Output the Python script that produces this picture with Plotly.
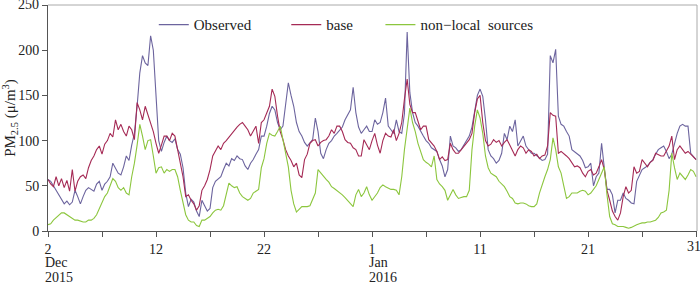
import pandas as pd
import plotly.graph_objects as go

# 6-hourly PM2.5 readings, 2015-12-02 00:00 to 2016-01-31 00:00
times = pd.date_range("2015-12-02 00:00", "2016-01-31 00:00", freq="6h")

observed = [
    57, 55, 50, 45, 40, 35, 30, 33, 29, 32, 45, 38, 30, 38, 45, 48, 46, 44, 52, 55,
    45, 52, 55, 60, 75, 70, 64, 62, 71, 83, 78, 95, 108, 138, 175, 194, 186, 183, 216, 200,
    150, 100, 88, 98, 105, 100, 98, 102, 90, 85, 70, 42, 27, 35, 32, 22, 16, 34, 28, 22,
    25, 48, 55, 58, 60, 68, 75, 72, 80, 78, 83, 80, 79, 72, 68, 75, 79, 85, 90, 105,
    105, 116, 130, 138, 134, 120, 112, 116, 140, 164, 150, 138, 120, 110, 105, 98, 94, 98, 101, 125,
    110, 86, 80, 90, 97, 100, 105, 108, 112, 115, 123, 128, 134, 159, 131, 115, 108, 112, 116, 110,
    110, 123, 118, 120, 131, 147, 116, 112, 108, 123, 110, 108, 130, 220, 153, 131, 120, 116, 110, 105,
    100, 97, 92, 90, 88, 79, 72, 60, 68, 105, 94, 92, 88, 90, 95, 101, 105, 115, 131, 150,
    157, 149, 123, 90, 83, 80, 75, 78, 86, 108, 101, 116, 110, 123, 94, 100, 105, 94, 90, 86,
    86, 83, 80, 78, 79, 85, 194, 186, 201, 127, 118, 116, 110, 105, 90, 88, 86, 83, 78, 70,
    71, 75, 50, 60, 64, 97, 70, 46, 46, 40, 20, 34, 34, 42, 36, 34, 31, 30, 55, 62,
    68, 70, 72, 76, 79, 85, 90, 92, 94, 88, 80, 85, 97, 108, 116, 118, 116, 116, 86, 82,
    79,
]

base = [
    57, 52, 49, 60, 50, 58, 48, 56, 44, 68, 44, 55, 60, 62, 58, 70, 78, 83, 90, 94,
    85, 96, 100, 108, 104, 123, 112, 118, 110, 105, 116, 112, 101, 142, 134, 123, 138, 128, 120, 110,
    97, 86, 95, 105, 105, 100, 108, 105, 90, 75, 60, 38, 40, 34, 30, 23, 28, 45, 50, 57,
    68, 83, 88, 94, 90, 97, 100, 104, 108, 112, 115, 118, 120, 116, 112, 105, 110, 116, 97, 120,
    123, 130, 138, 157, 149, 127, 110, 101, 90, 83, 78, 71, 75, 62, 59, 79, 85, 97, 100, 101,
    94, 98, 100, 101, 105, 112, 108, 116, 116, 110, 101, 98, 97, 92, 90, 83, 83, 101, 95, 90,
    100, 108, 95, 86, 100, 108, 105, 104, 112, 100, 108, 120, 146, 168, 140, 131, 131, 120, 112, 116,
    116, 101, 98, 94, 88, 79, 82, 78, 79, 97, 90, 86, 86, 90, 94, 98, 101, 108, 131, 146,
    150, 120, 100, 94, 96, 101, 98, 100, 94, 98, 101, 95, 88, 83, 90, 94, 92, 86, 90, 88,
    83, 85, 80, 83, 84, 94, 131, 128, 127, 86, 88, 86, 83, 80, 76, 71, 72, 70, 64, 60,
    66, 68, 62, 64, 71, 79, 68, 45, 34, 22, 16, 12, 20, 38, 49, 42, 45, 71, 64, 66,
    79, 75, 71, 76, 78, 86, 84, 83, 83, 88, 94, 105, 79, 90, 94, 90, 86, 88, 85, 83,
    79,
]

non_local = [
    7, 8, 12, 15, 18, 20, 20, 18, 16, 14, 12, 12, 11, 10, 10, 12, 12, 14, 18, 25,
    30, 38, 42, 50, 58, 55, 48, 45, 48, 42, 40, 60, 75, 95, 118, 105, 90, 100, 101, 83,
    64, 70, 71, 64, 68, 66, 68, 68, 60, 45, 31, 18, 12, 10, 10, 6, 5, 12, 12, 14,
    16, 20, 23, 24, 23, 28, 40, 53, 50, 48, 49, 42, 38, 36, 34, 36, 42, 44, 46, 70,
    80, 97, 108, 106, 105, 110, 116, 101, 86, 71, 45, 30, 21, 24, 27, 27, 27, 28, 35, 42,
    68, 64, 60, 57, 54, 49, 47, 45, 42, 40, 37, 34, 30, 27, 40, 46, 38, 42, 49, 40,
    34, 38, 42, 48, 51, 49, 47, 46, 46, 45, 40, 60, 90, 116, 136, 120, 110, 97, 88, 79,
    76, 74, 71, 83, 57, 52, 49, 45, 34, 40, 46, 40, 36, 37, 38, 38, 45, 90, 116, 134,
    125, 108, 83, 70, 64, 62, 60, 55, 52, 49, 44, 38, 36, 31, 30, 31, 31, 30, 28, 27,
    27, 30, 42, 52, 60, 68, 79, 103, 90, 71, 64, 50, 36, 38, 42, 42, 42, 44, 45, 44,
    40, 42, 46, 50, 57, 65, 71, 40, 16, 8, 7, 5, 5, 5, 4, 3, 4, 6, 7, 8,
    9, 9, 10, 10, 11, 12, 15, 20, 21, 23, 45, 86, 70, 57, 64, 60, 57, 62, 68, 66,
    60,
]

tick_dates = ["2015-12-02", "2015-12-12", "2015-12-22", "2016-01-01",
              "2016-01-11", "2016-01-21", "2016-01-31"]
tick_text = ["2", "12", "22", "1", "11", "21", "31"]
minor_dates = ["2015-12-07", "2015-12-17", "2015-12-27", "2016-01-06",
               "2016-01-16", "2016-01-26"]
y_ticks = [0, 50, 100, 150, 200, 250]

font = "Liberation Serif, Times New Roman, serif"
pad = "\u00a0"

fig = go.Figure()
fig.add_trace(go.Scatter(x=times, y=observed, mode="lines", name="Observed" + pad * 8,
                         line=dict(color="#6c649e", width=1.1)))
fig.add_trace(go.Scatter(x=times, y=base, mode="lines", name="base" + pad * 6,
                         line=dict(color="#a52a55", width=1.1)))
fig.add_trace(go.Scatter(x=times, y=non_local, mode="lines", name="non\u2212local\u00a0 sources",
                         line=dict(color="#8cc63e", width=1.1)))

fig.update_layout(
    width=700, height=282,
    margin=dict(l=48, r=3, t=5, b=51, autoexpand=False),
    paper_bgcolor="white", plot_bgcolor="white",
    font=dict(family=font, size=13, color="#222"),
    showlegend=True,
    legend=dict(orientation="h", x=0.163, y=0.912, xanchor="left", yanchor="middle",
                bgcolor="rgba(0,0,0,0)", font=dict(size=15), tracegroupgap=0),
)

# edge labels (31 and 250) would be dropped by plotly because they touch the
# page edge, so those two are written as annotations below
fig.update_xaxes(
    range=["2015-12-02 00:00", "2016-01-31 02:00"],
    tickmode="array", tickvals=tick_dates, ticktext=tick_text[:-1] + [""],
    ticks="outside", ticklen=5, tickcolor="#555",
    showline=True, linecolor="#555", linewidth=1,
    showgrid=False, zeroline=False, automargin=False,
    minor=dict(tickmode="array", tickvals=minor_dates, ticks="outside", ticklen=5,
               tickcolor="#555", showgrid=False),
    tickfont=dict(size=14),
)
fig.update_yaxes(
    range=[0, 250], tickmode="array", tickvals=y_ticks,
    ticktext=[str(v) for v in y_ticks[:-1]] + [""],
    ticks="outside", ticklen=5, tickcolor="#555",
    showline=True, linecolor="#555", linewidth=1,
    showgrid=False, zeroline=False, automargin=False,
    title=dict(text="PM<sub>2.5</sub> (\u03bc/m<sup>3</sup>)", font=dict(size=15), standoff=6),
    tickfont=dict(size=14),
)

fig.add_annotation(x=0, y=y_ticks[-1], xref="paper", yref="y", text=str(y_ticks[-1]),
                   showarrow=False, xanchor="right", yanchor="middle", xshift=-7,
                   yshift=1, font=dict(size=14))
fig.add_annotation(x=tick_dates[-1], y=0, xref="x", yref="paper", text=tick_text[-1],
                   showarrow=False, xanchor="center", yanchor="middle", yshift=-15,
                   xshift=-2, font=dict(size=14))

# light frame on top and right
fig.add_shape(type="line", xref="paper", yref="paper", x0=0, x1=1, y0=1, y1=1,
              line=dict(color="#aaa", width=1))
fig.add_shape(type="line", xref="paper", yref="paper", x0=1, x1=1, y0=0, y1=1,
              line=dict(color="#aaa", width=1))

# month / year under the first tick of each month
for d, month, year in [("2015-12-02", "Dec", "2015"), ("2016-01-01", "Jan", "2016")]:
    for text, shift in [(month, -31), (year, -46)]:
        fig.add_annotation(x=d, y=0, xref="x", yref="paper", yshift=shift,
                           text=text, showarrow=False, xanchor="left", yanchor="middle",
                           xshift=-5, font=dict(size=14))

# the page gets a default 8px body margin; drop it so the figure fills the window
fig.write_html("out.html", config={"displayModeBar": False},
               post_script="document.body.style.margin='0';")
